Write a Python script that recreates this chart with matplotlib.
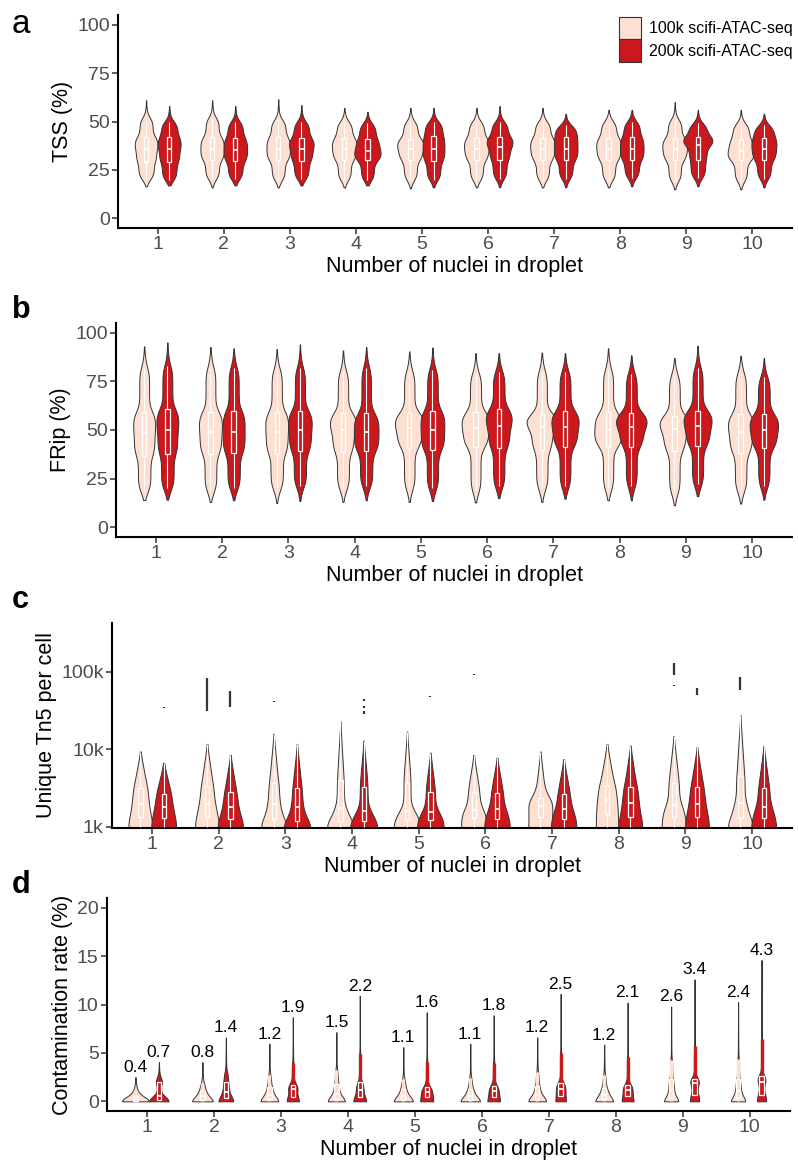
import numpy as np
import matplotlib
matplotlib.use("Agg")
import matplotlib.pyplot as plt
from matplotlib.patches import Patch, Rectangle
from matplotlib.ticker import NullLocator

plt.rcParams["font.family"] = ["Liberation Sans", "DejaVu Sans"]

nuclei = list(range(1, 11))
series_labels = ["100k scifi-ATAC-seq", "200k scifi-ATAC-seq"]
series_colors = ["#FEE0D2", "#CB181D"]

# each stat: [100k row, 200k row], one value per nuclei count
# panel a - TSS (%)
tss_min = [[16.5, 16, 16, 16, 15.5, 16, 16, 16, 15, 15],
           [17, 17, 17, 17, 16, 16, 16, 16.5, 16.5, 16]]
tss_body_lo = [[20.5, 20.5, 20, 20, 20, 20, 20, 20, 19.5, 19.5],
               [20, 20.5, 20.5, 20, 20, 20.5, 20.5, 21, 21, 20.5]]
tss_q1 = [[29, 30, 30, 30, 30, 30, 30, 30, 30, 30],
          [29, 29.5, 29.5, 30, 29.5, 30, 30, 30, 30, 30]]
tss_med = [[36, 36, 36, 36, 36, 36, 36, 36, 36, 35],
           [36, 35.5, 36, 35, 36, 37, 36, 36, 38, 36]]
tss_q3 = [[42, 42, 42, 41.5, 41, 41.5, 41.5, 41.5, 41.5, 41],
          [42, 41.5, 41.5, 41, 42.5, 42, 42, 42, 42, 41.5]]
tss_body_hi = [[52, 52, 51, 50, 50, 50, 50, 50, 51, 49],
               [50, 50, 50, 49, 50, 50, 48, 50, 49, 48]]
tss_max = [[61, 61, 61.5, 57, 57, 57, 57, 56, 60, 56],
           [58, 58, 58.5, 55, 57, 58, 54, 56, 56, 54]]

# panel b - FRip (%)
frip_min = [[14, 13, 12.5, 13, 13, 12.8, 13, 13.9, 11.3, 12.2],
            [14.2, 13.9, 13.5, 13.9, 13.5, 15, 14.7, 13.9, 16, 14.2]]
frip_body_lo = [[19, 19, 20, 20, 20, 19, 20, 20, 18, 19],
                [20, 20, 21, 21, 20, 21, 21, 21, 22, 21]]
frip_q1 = [[36.8, 37.9, 37.9, 38.6, 41, 41.2, 39.6, 41.5, 39.2, 38.3],
           [37.6, 38, 39, 39, 39.6, 40.6, 41.5, 41.5, 41.9, 40.6]]
frip_med = [[48.6, 49.1, 49, 50, 50.8, 50.8, 51.4, 50, 50.3, 49.1],
            [49.8, 49, 50, 48.8, 50, 52, 51.4, 51.7, 52, 50]]
frip_q3 = [[59.4, 59.4, 59.4, 58.6, 58.6, 59, 58, 59, 57.4, 58.2],
           [60.6, 60, 60, 58.6, 60, 60.8, 59.8, 58.6, 60, 58]]
frip_body_hi = [[82, 82, 81, 80, 80, 79, 80, 81, 78, 79],
                [83, 82, 82, 82, 81, 80, 80, 79, 82, 77]]
frip_max = [[93, 92.6, 91.6, 90.9, 90.4, 89.5, 89.8, 92, 87, 88.2],
            [95, 92, 94, 92.6, 92.4, 89.5, 89.5, 88.4, 93.3, 87]]

# panel c - unique Tn5 fragments per cell
tn5_min = [[1000] * 10, [1000] * 10]
tn5_q1 = [[1350, 1350, 1270, 1200, 1230, 1300, 1350, 1470, 1350, 1300],
          [1300, 1270, 1200, 1200, 1230, 1270, 1270, 1360, 1360, 1300]]
tn5_med = [[2000, 2000, 2000, 1750, 1600, 1660, 1860, 2200, 1900, 2040],
           [1800, 1800, 1800, 1600, 1560, 1700, 1700, 2040, 2000, 1830]]
tn5_q3 = [[3200, 3400, 3700, 4000, 3700, 2850, 2400, 3500, 3700, 4600],
          [2700, 2850, 3200, 3300, 2850, 2770, 2700, 3300, 3300, 3200]]
tn5_max = [[9400, 11800, 16000, 23000, 17000, 8500, 9400, 11800, 14900, 27800],
           [6700, 8500, 11800, 13000, 9100, 7800, 7500, 11200, 10700, 11000]]
# outlier runs: (nuclei, series index, low, high)
tn5_outliers = [(1, 1, 34000, 35500), (2, 0, 31000, 83000), (2, 1, 35000, 56000),
                (3, 0, 40500, 42000), (4, 1, 28500, 31000), (4, 1, 34000, 36000),
                (4, 1, 42000, 44500), (5, 1, 47000, 48500), (6, 0, 90000, 94000),
                (9, 0, 91000, 132000), (9, 0, 65000, 68000), (9, 1, 50000, 62000),
                (10, 0, 59000, 87000)]

# panel d - contamination rate (%)
cont_min = [[0] * 10, [0] * 10]
cont_q1 = [[0.05, 0.1, 0.2, 0.2, 0.15, 0.15, 0.2, 0.2, 0.3, 0.3],
           [0.15, 0.3, 0.45, 0.4, 0.45, 0.45, 0.6, 0.5, 0.7, 0.7]]
cont_med = [[0.2, 0.5, 0.7, 0.8, 0.6, 0.6, 0.7, 0.7, 1.2, 1.1],
            [0.5, 1.0, 1.3, 1.2, 1.0, 1.1, 1.3, 1.2, 1.9, 2.0]]
cont_q3 = [[0.55, 1.1, 1.5, 1.8, 1.3, 1.3, 1.6, 1.4, 2.3, 2.3],
           [2.0, 2.0, 1.7, 2.0, 1.5, 1.6, 1.9, 1.7, 2.3, 2.6]]
cont_whisker = [[1.2, 1.85, 2.7, 3.2, 2.3, 2.4, 3.0, 2.7, 4.3, 4.4],
                [2.2, 3.0, 3.95, 4.9, 4.05, 3.95, 5.0, 4.55, 5.67, 6.45]]
cont_max = [[2.5, 4.05, 5.95, 7.15, 5.6, 5.95, 6.6, 5.85, 9.8, 10.25],
            [4.05, 6.6, 8.7, 10.9, 9.2, 8.9, 11.1, 10.2, 12.6, 14.6]]
cont_mean = [[0.4, 0.8, 1.2, 1.5, 1.1, 1.1, 1.2, 1.2, 2.6, 2.4],
             [0.7, 1.4, 1.9, 2.2, 1.6, 1.8, 2.5, 2.1, 3.4, 4.3]]

OUTLINE = "#333333"
DODGE = 0.175
BOX_W = 0.065


def shape_density(grid, qs, levels, first_flat):
    dens = np.zeros_like(grid)
    last = len(qs) - 2
    for i in range(len(qs) - 1):
        lo, hi = qs[i], qs[i + 1]
        mass = levels[i + 1] - levels[i]
        span = max(hi - lo, 1e-9)
        inside = (grid >= lo) & (grid <= hi)
        t = (grid[inside] - lo) / span
        if i == last:
            dens[inside] = 2 * mass / span * (1 - t)
        elif i == 0 and not first_flat:
            dens[inside] = 2 * mass / span * t
        else:
            dens[inside] = mass / span
    return dens


def smooth(grid, dens, bw, reflect_low):
    step = grid[1] - grid[0]
    k = max(1, min(int(3 * bw / step), len(dens) - 2))
    kern = np.exp(-0.5 * ((np.arange(-k, k + 1) * step) / bw) ** 2)
    kern /= kern.sum()
    low = dens[1:k + 1][::-1] if reflect_low else np.zeros(k)
    padded = np.concatenate([low, dens, np.zeros(k)])
    return np.convolve(padded, kern, mode="same")[k:k + len(dens)]


def violin_panel(ax, stacks, levels, bw, max_half, log=False, first_flat=False, power=1.0):
    # power 1 -> equal area, 0 -> equal width
    shapes = []
    for s in range(2):
        for g in range(len(nuclei)):
            qs = np.array([stat[s][g] for stat in stacks], dtype=float)
            if log:
                qs = np.log10(qs)
            grid = np.linspace(qs[0], qs[-1], 400)
            dens = smooth(grid, shape_density(grid, qs, levels, first_flat), bw, first_flat)
            shapes.append((s, g, grid, dens))
    peak = max(d.max() for _, _, _, d in shapes)
    for s, g, grid, dens in shapes:
        x = nuclei[g] + (DODGE if s else -DODGE)
        own = dens.max()
        hw = dens / own * max_half * (own / peak) ** power
        y = 10 ** grid if log else grid
        ax.fill_betweenx(y, x - hw, x + hw, facecolor=series_colors[s],
                         edgecolor=OUTLINE, linewidth=0.7, zorder=2)


def inner_box(ax, s, g, lo, q1, med, q3, hi, whisker=True):
    x = nuclei[g] + (DODGE if s else -DODGE)
    if whisker:
        ax.vlines([x, x], [lo, q3], [q1, hi], color="white", linewidth=0.8, zorder=3)
    ax.add_patch(Rectangle((x - BOX_W / 2, q1), BOX_W, q3 - q1, fill=False,
                           edgecolor="white", linewidth=0.9, zorder=4))
    ax.hlines(med, x - BOX_W / 2, x + BOX_W / 2, color="white", linewidth=1.3, zorder=4)


def style_axes(ax, ylabel):
    for side in ("top", "right"):
        ax.spines[side].set_visible(False)
    for side in ("left", "bottom"):
        ax.spines[side].set_linewidth(1.5)
    ax.tick_params(axis="both", length=4, width=1.1, color=OUTLINE,
                   labelsize=14, labelcolor="#4D4D4D", pad=2)
    ax.set_xlim(0.4, 10.6)
    ax.set_xticks(nuclei)
    ax.set_xlabel("Number of nuclei in droplet", fontsize=15.5, labelpad=2)
    ax.set_ylabel(ylabel, fontsize=15.5, labelpad=3)


fig = plt.figure(figsize=(7.98, 11.66), dpi=100)
W, H = 798, 1166


def px_axes(left, right, top, bottom):
    return fig.add_axes([left / W, 1 - bottom / H, (right - left) / W, (bottom - top) / H])


# a
ax_a = px_axes(118, 792, 15, 228)
violin_panel(ax_a, [tss_min, tss_body_lo, tss_q1, tss_med, tss_q3, tss_body_hi, tss_max],
             [0, 0.02, 0.25, 0.5, 0.75, 0.98, 1.0], 2.2, 0.22)
for s in range(2):
    for g in range(10):
        inner_box(ax_a, s, g, tss_body_lo[s][g], tss_q1[s][g], tss_med[s][g],
                  tss_q3[s][g], tss_body_hi[s][g])
ax_a.set_ylim(-5, 105)
ax_a.set_yticks([0, 25, 50, 75, 100])
style_axes(ax_a, "TSS (%)")

# b
ax_b = px_axes(116, 792, 323, 537)
violin_panel(ax_b, [frip_min, frip_body_lo, frip_q1, frip_med, frip_q3, frip_body_hi, frip_max],
             [0, 0.02, 0.25, 0.5, 0.75, 0.98, 1.0], 3.2, 0.23)
for s in range(2):
    for g in range(10):
        inner_box(ax_b, s, g, frip_body_lo[s][g], frip_q1[s][g], frip_med[s][g],
                  frip_q3[s][g], frip_body_hi[s][g])
ax_b.set_ylim(-5, 105)
ax_b.set_yticks([0, 25, 50, 75, 100])
style_axes(ax_b, "FRip (%)")

# c
ax_c = px_axes(112, 792, 623, 828)
ax_c.set_yscale("log")
violin_panel(ax_c, [tn5_min, tn5_q1, tn5_med, tn5_q3, tn5_max],
             [0, 0.25, 0.5, 0.75, 1.0], 0.09, 0.2, log=True, first_flat=True, power=0.3)
for s in range(2):
    for g in range(10):
        inner_box(ax_c, s, g, tn5_min[s][g], tn5_q1[s][g], tn5_med[s][g],
                  tn5_q3[s][g], tn5_max[s][g])
for n, s, lo, hi in tn5_outliers:
    x = n + (DODGE if s else -DODGE)
    ax_c.vlines(x, lo, hi, color=OUTLINE, linewidth=1.6, zorder=3)
ax_c.set_ylim(970, 4.28e5)
ax_c.set_yticks([1e3, 1e4, 1e5])
ax_c.set_yticklabels(["1k", "10k", "100k"])
ax_c.yaxis.set_minor_locator(NullLocator())
style_axes(ax_c, "Unique Tn5 per cell")

# d
ax_d = px_axes(107, 790, 898, 1111)
violin_panel(ax_d, [cont_min, cont_q1, cont_med, cont_q3, cont_whisker, cont_max],
             [0, 0.25, 0.5, 0.75, 0.93, 1.0], 0.4, 0.2, first_flat=True, power=0.8)
for s in range(2):
    for g in range(10):
        x = nuclei[g] + (DODGE if s else -DODGE)
        ax_d.vlines(x, cont_min[s][g], cont_whisker[s][g], color=series_colors[s],
                    linewidth=2.4, zorder=3)
        inner_box(ax_d, s, g, cont_min[s][g], cont_q1[s][g], cont_med[s][g],
                  cont_q3[s][g], cont_max[s][g], whisker=False)
        ax_d.annotate(f"{cont_mean[s][g]:.1f}", (x, cont_max[s][g]), xytext=(0, 1.5),
                      textcoords="offset points", ha="center", va="bottom",
                      fontsize=12.5, color="black")
ax_d.set_ylim(-1, 21)
ax_d.set_yticks([0, 5, 10, 15, 20])
style_axes(ax_d, "Contamination rate (%)")

# legend
handles = [Patch(facecolor=c, edgecolor=OUTLINE, linewidth=0.8) for c in series_colors]
fig.legend(handles, series_labels, loc="upper right", bbox_to_anchor=(1.0, 1 - 12 / H),
           frameon=False, fontsize=11.5, handlelength=1.4, handleheight=1.8,
           labelspacing=0.0, handletextpad=0.5, borderpad=0.2, borderaxespad=0.1)

# panel letters
fig.text(12 / W, 1 - 33 / H, "a", fontsize=24, va="baseline", ha="left")
for letter, base in (("b", 318), ("c", 608), ("d", 893)):
    fig.text(12 / W, 1 - base / H, letter, fontsize=22, fontweight="bold",
             va="baseline", ha="left")

fig.savefig("out.png", dpi=100)
